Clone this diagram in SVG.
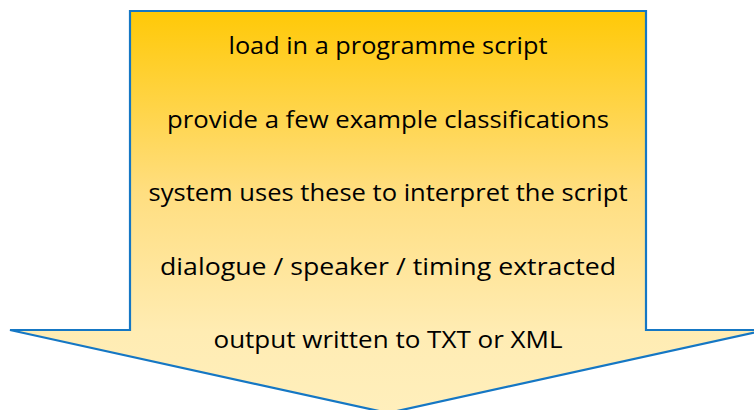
<svg xmlns="http://www.w3.org/2000/svg" width="754" height="410" viewBox="0 0 754 410">
  <defs>
    <linearGradient id="fillGrad" x1="0" y1="11" x2="0" y2="413" gradientUnits="userSpaceOnUse">
      <stop offset="0" stop-color="#FFC907"/>
      <stop offset="0.45" stop-color="#FFDE80"/>
      <stop offset="0.8" stop-color="#FFECB3"/>
      <stop offset="1" stop-color="#FFEFBC"/>
    </linearGradient>
    <style>
      .arrow { fill: url(#fillGrad); stroke: #1577C4; stroke-width: 2.2; stroke-linejoin: miter; }
      .step { font-family: "Open Sans", "Noto Sans", "Liberation Sans", sans-serif; font-size: 23.5px; fill: #000000; text-anchor: middle; }
    </style>
  </defs>
  <rect width="754" height="410" fill="#FFFFFF"/>
  <g id="process-arrow">
    <polygon class="arrow" points="130,11 646,11 646,330 766,330 388,413 10,330 130,330"/>
  </g>
  <g id="steps">
    <text class="step" x="388" y="54" textLength="319" lengthAdjust="spacingAndGlyphs">load in a programme script</text>
    <text class="step" x="388" y="127.5" textLength="442" lengthAdjust="spacingAndGlyphs">provide a few example classifications</text>
    <text class="step" x="388" y="201" textLength="479" lengthAdjust="spacingAndGlyphs">system uses these to interpret the script</text>
    <text class="step" x="388" y="274.5" textLength="456" lengthAdjust="spacingAndGlyphs">dialogue / speaker / timing extracted</text>
    <text class="step" x="388" y="348" textLength="349" lengthAdjust="spacingAndGlyphs">output written to TXT or XML</text>
  </g>
</svg>
